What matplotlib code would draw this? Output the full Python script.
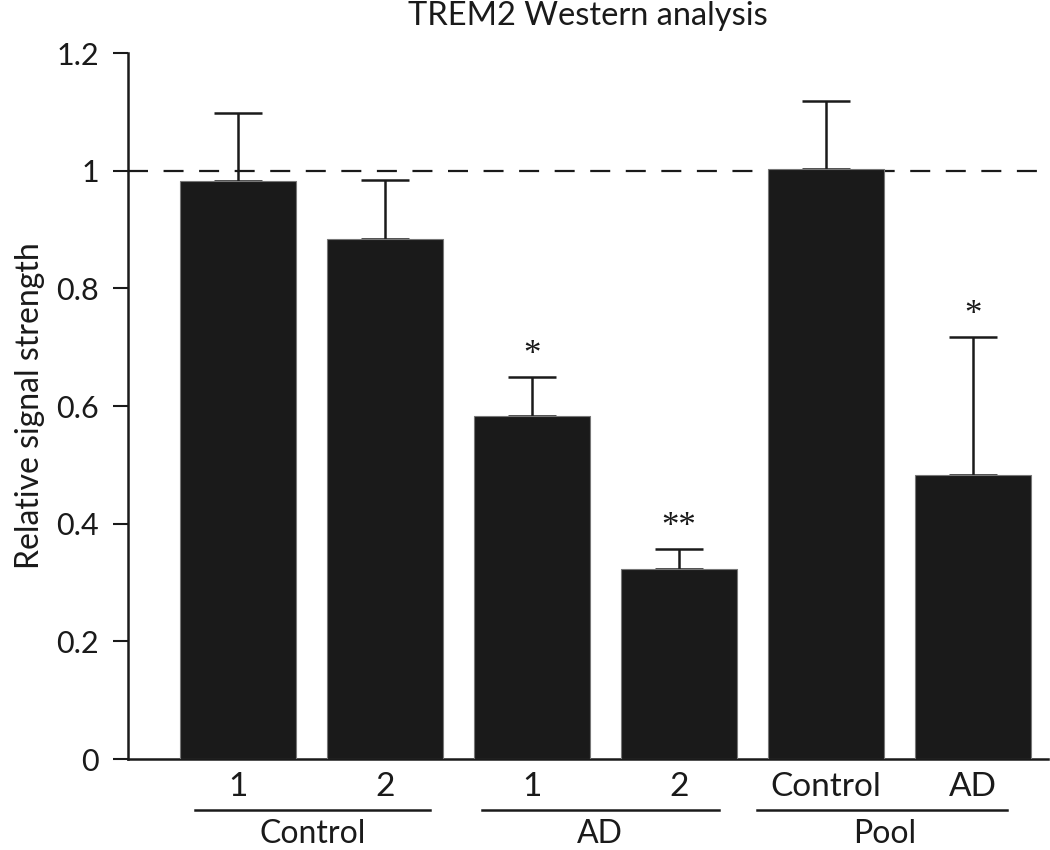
import matplotlib
matplotlib.use("Agg")
import matplotlib.pyplot as plt
import matplotlib.transforms as mtransforms

# ---- data ----
tick_labels = ["1", "2", "1", "2", "Control", "AD"]
values = [0.983, 0.884, 0.583, 0.323, 1.003, 0.483]
err_upper = [0.115, 0.101, 0.067, 0.034, 0.115, 0.235]
signif = ["", "", "*", "**", "", "*"]
groups = ["Control", "AD", "Pool"]
group_spans = [(-0.29, 1.31), (1.66, 3.27), (3.53, 5.23)]
group_label_x = [0.51, 2.46, 4.40]
y_ticks = [0, 0.2, 0.4, 0.6, 0.8, 1.0, 1.2]
y_tick_labels = ["0", "0.2", "0.4", "0.6", "0.8", "1", "1.2"]

plt.rcParams["font.family"] = ["Lato", "DejaVu Sans"]
ink = "#1a1a1a"

fig = plt.figure(figsize=(10.5, 8.5), dpi=100)
ax = fig.add_axes([0.122, 0.107, 0.876, 0.8305])

x = list(range(len(values)))
ax.bar(x, values, width=0.79, color=ink, edgecolor="#777777", linewidth=0.8, zorder=3)
ax.errorbar(x, values, yerr=[[0] * len(values), err_upper], fmt="none",
            ecolor=ink, elinewidth=1.8, capsize=17, capthick=1.8, zorder=2)

ax.axhline(1.0, color=ink, linewidth=1.6, dashes=(9.0, 7.0), zorder=1)

for xi, v, e, s in zip(x, values, err_upper, signif):
    if s:
        ax.text(xi, v + e + 0.022, s, ha="center", va="baseline",
                fontsize=25, family=["Liberation Serif"], color=ink)

ax.set_xlim(-0.745, 5.51)
ax.set_ylim(0, 1.2)
ax.set_yticks(y_ticks)
ax.set_yticklabels(y_tick_labels)
ax.set_xticks(x)
ax.set_xticklabels(tick_labels)

for sp in ["top", "right"]:
    ax.spines[sp].set_visible(False)
for sp in ["left", "bottom"]:
    ax.spines[sp].set_linewidth(1.8)
    ax.spines[sp].set_color(ink)

ax.tick_params(axis="y", direction="out", length=11, width=1.5, pad=10,
               labelsize=22, colors=ink)
ax.tick_params(axis="x", length=0, pad=9, labelsize=24, colors=ink)

ax.set_ylabel("Relative signal strength", fontsize=23, color=ink, labelpad=8)
ax.set_title("TREM2 Western analysis", fontsize=23.5, color=ink, pad=20)

trans = mtransforms.blended_transform_factory(ax.transData, ax.transAxes)
for (x0, x1), g, gx in zip(group_spans, groups, group_label_x):
    ax.plot([x0, x1], [-0.072, -0.072], color=ink, linewidth=1.8,
            transform=trans, clip_on=False)
    ax.text(gx, -0.106, g, ha="center", va="center", fontsize=23,
            color=ink, transform=trans)

fig.savefig("out.png", dpi=100, facecolor="white")
